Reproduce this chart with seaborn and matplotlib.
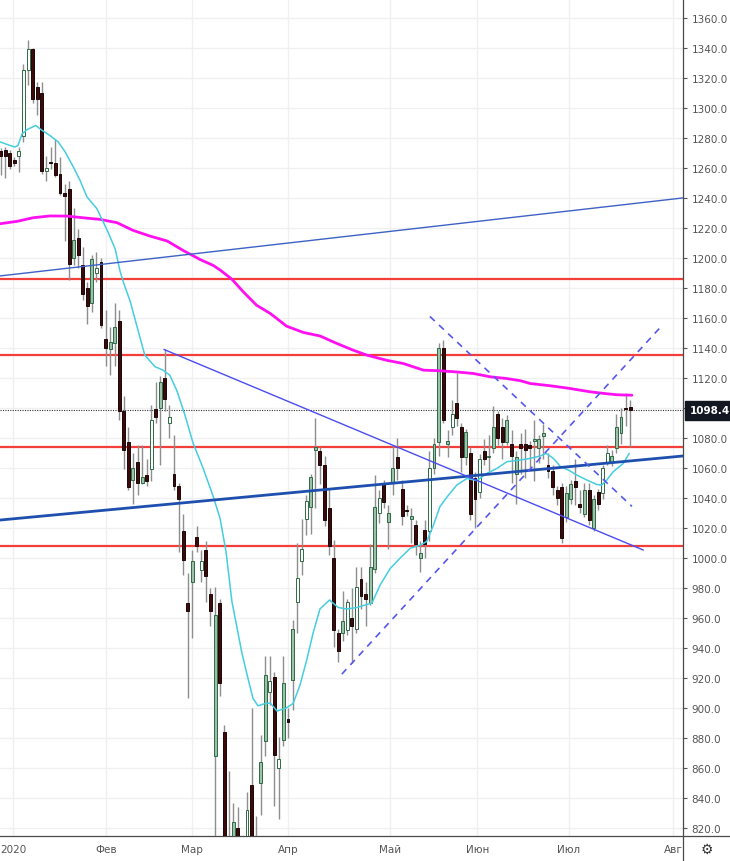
import numpy as np
import pandas as pd
import matplotlib
matplotlib.use("Agg")
import matplotlib.pyplot as plt
import seaborn as sns

# ── Data ───────────────────────────────────────────────────────────────────────
opens = [1271, 1272, 1270, 1265, 1268, 1281, 1325, 1339, 1314, 1310,
         1258, 1264, 1263, 1256, 1243.5, 1246, 1200, 1213, 1195, 1180,
         1170, 1190, 1197, 1146, 1139, 1143, 1158, 1098, 1077, 1052,
         1064, 1050, 1055, 1059, 1099, 1100, 1120, 1090, 1056, 1048,
         1018, 970, 984, 1014, 992, 1005, 976, 868, 970, 884,
         814, 812, 820, 812, 805, 849, 812, 850, 878, 911,
         921, 860, 879, 893, 919, 971, 998, 1026, 1034, 1072,
         1071, 1062, 1033, 1000, 950, 950, 952, 960, 953, 986,
         976, 970, 993, 1030, 1049, 1024, 1050, 1067, 1046, 1032,
         1026, 1022, 1000, 1018.6, 1018, 1060, 1077, 1140, 1076, 1087,
         1103, 1087, 1067, 1070, 1053, 1044, 1071, 1067, 1073, 1096,
         1087, 1077, 1076, 1056, 1076, 1076, 1075, 1078, 1073, 1081,
         1062, 1058, 1045, 1047, 1027, 1039, 1051, 1036, 1029, 1045,
         1020, 1044, 1043, 1063, 1064, 1073, 1083, 1100, 1100.5]
highs = [1273, 1274, 1272, 1267, 1274, 1329, 1345, 1340, 1317, 1317,
         1268, 1274, 1279, 1267, 1249, 1251, 1233, 1219, 1207, 1184,
         1202, 1204, 1200, 1165, 1154, 1170, 1165, 1108, 1087, 1070,
         1075, 1075, 1066, 1102, 1117, 1121, 1139, 1102, 1082, 1050,
         1029, 990, 1005, 1021, 1005, 1011, 980, 981, 973, 889,
         858, 837, 834, 814, 844, 900, 828, 882, 935, 935,
         924, 881, 935, 900, 959, 1010, 1026, 1042, 1056, 1093,
         1074, 1068, 1046, 1012, 953, 978, 973, 980, 994, 994,
         984, 1009, 1055, 1045, 1052, 1035, 1075, 1080, 1052, 1035,
         1033, 1025, 1011, 1025, 1071, 1080, 1143, 1145, 1085, 1105,
         1123, 1090, 1086, 1074, 1057, 1069, 1079, 1082, 1101, 1098,
         1093, 1095, 1085, 1071, 1083, 1086, 1078, 1092, 1082, 1089,
         1070, 1062, 1048, 1050, 1048, 1052, 1066, 1045, 1050, 1050,
         1042, 1046, 1062, 1075, 1072, 1096, 1100, 1110, 1105]
lows = [1255, 1253, 1259, 1261, 1257, 1277, 1315, 1303, 1295, 1256,
        1251, 1259, 1254, 1242, 1211, 1185, 1195, 1193, 1172, 1156,
        1164, 1184, 1153, 1128, 1122, 1128, 1092, 1059, 1045, 1036,
        1042, 1049, 1048, 1051, 1090, 1062, 1098, 1080, 1045, 1004,
        989, 907, 947, 1004, 984, 971, 955, 812, 908, 800,
        798, 805, 808, 790, 800, 805, 800, 829, 868, 902,
        835, 826, 875, 880, 899, 950, 989, 1015, 1016, 1033,
        1049, 1021, 1002, 941, 931, 945, 949, 930, 950, 966,
        955, 969, 990, 1023, 1033, 1006, 1042, 1052, 1022, 1028,
        1010, 1002, 991, 1000, 1011, 1056, 1068, 1090, 1067, 1082,
        1088, 1057, 1062, 1025, 1020, 1040, 1062, 1058, 1070, 1075,
        1066, 1075, 1050, 1036, 1056, 1053, 1060, 1051, 1063, 1066,
        1053, 1042, 1035, 1010, 1024, 1036, 1035, 1030, 1027, 1022,
        1018, 1032, 1039, 1062, 1061, 1070, 1076, 1088, 1074]
closes = [1268, 1268, 1261, 1263, 1271, 1325, 1339, 1306, 1306, 1258,
          1260, 1263, 1255, 1243, 1241.5, 1196, 1212, 1202, 1176, 1168,
          1199, 1193, 1155, 1140, 1144, 1154, 1098, 1072, 1047, 1060,
          1050, 1054, 1051, 1092, 1094, 1117, 1106, 1094, 1048, 1039,
          999, 965, 998, 1008, 998, 988, 965, 962, 917, 805,
          805, 824, 814, 800, 832, 810, 808, 864, 922, 918,
          869, 866, 917, 891, 953, 987, 1006, 1038, 1054, 1074,
          1062, 1025, 1008, 952, 938, 958, 971, 955, 981, 975,
          973, 994, 1034, 1040, 1037, 1030, 1060, 1060, 1028, 1031,
          1028, 1009, 1003, 1009, 1060, 1076, 1140, 1092, 1078, 1096,
          1093, 1067, 1084, 1029, 1039, 1066, 1066, 1068, 1087, 1080,
          1077, 1092, 1068, 1067, 1073, 1072, 1073, 1079, 1079, 1083,
          1058, 1047, 1040, 1013, 1043, 1049, 1047, 1034, 1045, 1025,
          1039, 1036, 1060, 1070, 1068, 1087, 1094, 1099, 1098.4]
hollow_up = [4, 5, 6, 10, 21, 33, 37, 44, 54, 59, 61, 65, 66, 67, 76, 78,
             83, 94, 99, 105, 132, 133]

# moving averages (bar index, value)
ma_fast_x = [-0.15, 2.0, 3.1, 3.8, 4.7, 5.8, 7.7, 8.8, 10.8, 12.6, 14.1, 15.9,
             17.4, 18.9, 21.1, 23.5, 25.1, 26.2, 27.0, 28.4, 30.6, 31.6, 33.8,
             35.6, 37.1, 38.7, 40.4, 42.2, 44.4, 46.6, 48.1, 49.4, 50.7, 52.9,
             54.2, 55.3, 56.4, 58.0, 59.1, 60.6, 62.6, 64.1, 65.6, 67.1, 68.5,
             70.0, 72.1, 74.0, 75.9, 78.1, 81.4, 83.2, 85.4, 87.6, 89.8, 92.0,
             93.4, 94.9, 96.3, 98.2, 100.0, 102.2, 104.4, 106.6, 108.8, 111.0,
             113.9, 116.1, 118.3, 119.6, 121.2, 122.7, 124.5, 126.3, 128.5,
             130.7, 131.8, 132.9, 134.3, 136.5, 137.8]
ma_fast_y = [1277.4, 1275, 1274, 1275, 1282.8, 1285.6, 1288.3, 1285.6, 1281.6,
             1277.4, 1270.8, 1260.8, 1251.7, 1240.8, 1232.8, 1217.5, 1206,
             1190.8, 1183, 1171, 1146.3, 1135.2, 1127.6, 1125.2, 1121.8, 1111,
             1095.2, 1076.4, 1059.7, 1041, 1026.4, 1004.4, 971, 936.5, 920,
             906.6, 901.5, 903, 903.3, 898, 900, 903, 915, 932, 950, 966, 972,
             967, 966, 967, 970, 982, 993, 1000, 1006.5, 1008.6, 1011, 1022,
             1034.2, 1042, 1048.6, 1053, 1051.6, 1056.4, 1059.7, 1064.2,
             1065.3, 1066.4, 1068, 1069.7, 1066.4, 1061, 1058.6, 1055.3, 1052,
             1049, 1048.7, 1052, 1057.5, 1063, 1069.7]
ma_slow_x = [-0.15, 3.6, 7.1, 10.8, 14.5, 18.0, 21.8, 25.5, 29.0, 32.7, 36.5,
             40.0, 43.7, 46.6, 48.1, 50.7, 53.2, 56.1, 59.1, 62.7, 66.4, 70.0,
             73.7, 77.3, 80.3, 84.6, 88.3, 92.7, 96.3, 100.0, 103.6, 107.3,
             111.0, 113.9, 116.1, 120.5, 124.8, 129.2, 132.2, 135.1, 138.4]
ma_slow_y = [1222.8, 1224.4, 1226.8, 1228, 1227.9, 1226.8, 1225.7, 1223.5,
             1218.4, 1214.6, 1211.3, 1205, 1199, 1195, 1192, 1185.8, 1177.4,
             1168.5, 1163, 1154.5, 1150.3, 1148, 1143, 1138.5, 1135.2, 1131.8,
             1129.6, 1125.2, 1124.8, 1124, 1123, 1120.8, 1119.6, 1118.2, 1116.3,
             1114.8, 1113, 1110.8, 1109.7, 1108.8, 1108.5]

levels = [1186, 1135, 1074, 1008]
last_price = 1098.4

# trend lines: (x0, y0, x1, y1) in bar index / price
trend_thin = (-0.15, 1188, 149.6, 1240)
trend_thick = (-0.15, 1025.3, 149.6, 1068)
trend_down = (35.8, 1139, 140.9, 1005.3)
dash_up = (74.8, 922.6, 145.2, 1155.6)
dash_down = (94.1, 1161, 138.4, 1034.4)

month_pos = [2.8, 23.1, 42.0, 63.0, 85.4, 104.5, 124.6, 147.4]
month_lab = ["2020", "Фев", "Мар", "Апр", "Май", "Июн", "Июл", "Авг"]
price_ticks = list(range(820, 1361, 20))

# ── Style ─────────────────────────────────────────────────────────────────────
sns.set_theme(style="white")
plt.rcParams["font.family"] = ["DejaVu Sans"]
GRID = "#f0f0f2"
AXIS = "#4a4a4a"
LABEL = "#555555"
UP_FILL = "#9cc0a8"
UP_EDGE = "#2e6b45"
DN_FILL = "#3b0b0b"
DN_EDGE = "#1c0606"
WICK = "#8e8e8e"

df = pd.DataFrame({"open": opens, "high": highs, "low": lows, "close": closes})
df["i"] = np.arange(len(df))
df["up"] = df["close"] >= df["open"]

fig = plt.figure(figsize=(7.3, 8.62), dpi=100)
ax = fig.add_axes([0.0, 25 / 862, 683 / 730, 837 / 862])
ax.set_facecolor("white")

ax.set_xlim(-0.15, 149.6)
ax.set_ylim(814.7, 1372.6)

# grid
for p in price_ticks:
    ax.axhline(p, color=GRID, lw=1.0, zorder=0)
for m in month_pos:
    ax.axvline(m, color=GRID, lw=1.0, zorder=0)

# horizontal levels
for lv in levels:
    ax.axhline(lv, color="#f23f3a", lw=1.6, zorder=2)
ax.axhline(last_price, color="#333333", lw=0.8, ls=(0, (1, 1.2)), zorder=2)

# candles
w = 0.64
ax.vlines(df["i"], df["low"], df["high"], color=WICK, lw=1.0, zorder=3)
for r in df.itertuples():
    lo = min(r.open, r.close)
    h = max(abs(r.close - r.open), 0.9)
    if r.up:
        fc = "white" if r.i in hollow_up else UP_FILL
        ec = UP_EDGE
    else:
        fc, ec = DN_FILL, DN_EDGE
    ax.bar(r.i, h, bottom=lo, width=w, color=fc, edgecolor=ec,
           linewidth=0.7, zorder=4)

# moving averages
sns.lineplot(x=ma_slow_x, y=ma_slow_y, ax=ax, color="#ff10f0", lw=2.0, zorder=5)
sns.lineplot(x=ma_fast_x, y=ma_fast_y, ax=ax, color="#45cde0", lw=1.1, zorder=5)

# trend lines
def seg(t, **kw):
    ax.plot([t[0], t[2]], [t[1], t[3]], **kw)

seg(trend_thin, color="#3d62c4", lw=1.0, zorder=6)
seg(trend_thick, color="#1f4fae", lw=2.0, zorder=6)
seg(trend_down, color="#4b4cf2", lw=1.0, zorder=6)
seg(dash_up, color="#5757ee", lw=1.2, ls=(0, (4, 3.5)), zorder=6)
seg(dash_down, color="#5757ee", lw=1.2, ls=(0, (4, 3.5)), zorder=6)

# axes (the 1100 label sits under the last-price tag, as in the reference)
ax.yaxis.tick_right()
ax.set_yticks(price_ticks)
ax.set_yticklabels(["" if p == 1100 else f"{p:.1f}" for p in price_ticks])
ax.set_xticks(month_pos)
ax.set_xticklabels(month_lab)
ax.tick_params(axis="y", colors=LABEL, labelsize=7.5, length=3, width=0.8,
               direction="out", pad=3, labelcolor=LABEL)
ax.tick_params(axis="x", colors=LABEL, labelsize=7.5, length=3, width=0.8,
               direction="out", pad=3, labelcolor=LABEL)
for s in ["top", "left"]:
    ax.spines[s].set_visible(False)
for s in ["right", "bottom"]:
    ax.spines[s].set_color(AXIS)
    ax.spines[s].set_linewidth(0.9)
ax.grid(False)

# last price tag
ax.annotate(f"{last_price:.1f}", xy=(1.0, last_price),
            xycoords=("axes fraction", "data"), xytext=(5, 0),
            textcoords="offset points", va="center", ha="left",
            fontsize=7.5, fontweight="bold", color="white", zorder=10,
            bbox=dict(boxstyle="square,pad=0.45", fc="#131722", ec="#131722"),
            annotation_clip=False)

# bottom-right strip: axis line continues and settings icon
fig.add_artist(plt.Line2D([683 / 730, 683 / 730], [0, 25 / 862],
                          color=AXIS, lw=0.9, transform=fig.transFigure))
fig.add_artist(plt.Line2D([683 / 730, 1.0], [25 / 862, 25 / 862],
                          color=AXIS, lw=0.9, transform=fig.transFigure))
fig.text(707 / 730, 12 / 862, "⚙", ha="center", va="center",
         fontsize=10, color="#333333")

fig.savefig("out.png", dpi=100, facecolor="white")
